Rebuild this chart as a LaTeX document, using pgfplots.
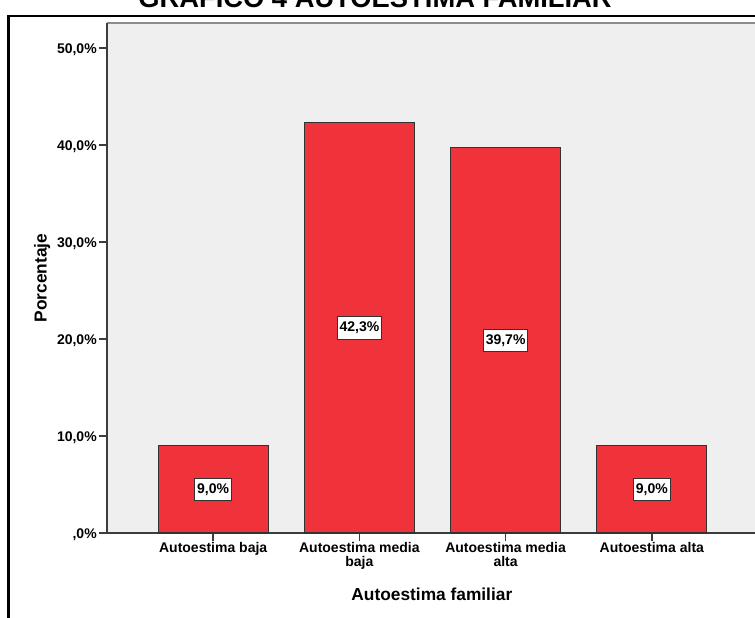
\documentclass[border=0pt]{standalone}
\usepackage{fontspec}
\setmainfont{Liberation Sans}
\usepackage{pgfplots}
\usepackage{pgfplotstable}
\pgfplotsset{compat=1.18}

\definecolor{barred}{RGB}{240,50,58}
\definecolor{barline}{RGB}{50,50,50}
\definecolor{plotbg}{RGB}{239,239,239}
\definecolor{axisdark}{RGB}{60,60,60}
\definecolor{framegray}{RGB}{140,140,140}

% Porcentaje por nivel de autoestima familiar
\pgfplotstableread{
x v
0 9.0
1 42.3
2 39.7
3 9.0
}\datatable

\begin{document}
\begin{tikzpicture}[x=0.75pt,y=0.75pt]
\begin{scope}
\clip (0,0) rectangle (755,617);
\fill[white] (0,0) rectangle (755,617);

% title
\node[anchor=base, font=\bfseries\fontsize{20.5pt}{24pt}\selectfont, inner sep=0pt]
  at (375,609) {GRÁFICO 4 AUTOESTIMA FAMILIAR};

% outer frame
\draw[line width=1.9pt] (8.5,-30) -- (8.5,601) -- (800,601);

\begin{axis}[
  at={(80.25pt,63pt)}, anchor=south west,
  scale only axis,
  width=488.25pt, height=382.5pt,
  xmin=-0.726, xmax=3.726,
  ymin=0, ymax=52.58,
  axis background/.style={fill=plotbg},
  axis line style={draw=none},
  clip=false,
  xtick={0,1,2,3},
  xticklabels={Autoestima baja, Autoestima media\\baja, Autoestima media\\alta, Autoestima alta},
  ytick={0,10,20,30,40,50},
  yticklabels={{,0\%},{10,0\%},{20,0\%},{30,0\%},{40,0\%},{50,0\%}},
  xtick pos=bottom, ytick pos=left,
  tick align=outside,
  major tick length=6pt,
  tick style={draw=axisdark, line width=1pt},
  xticklabel style={font=\bfseries\fontsize{10.5pt}{10pt}\selectfont, align=center, anchor=north, inner sep=0pt, yshift=-1pt},
  yticklabel style={font=\bfseries\fontsize{10.5pt}{12pt}\selectfont, anchor=east, inner sep=0pt, xshift=-1.5pt, yshift=-1.5pt},
  /pgf/number format/assume math mode=true,
  xlabel={Autoestima familiar},
  ylabel={Porcentaje},
  every axis x label/.style={at={(axis description cs:0.499,-0.1333)}, anchor=base, font=\bfseries\fontsize{13pt}{15pt}\selectfont, inner sep=0pt},
  every axis y label/.style={at={(axis description cs:-0.0929,0.5)}, rotate=90, anchor=base, font=\bfseries\fontsize{13pt}{15pt}\selectfont, inner sep=0pt},
]
% plot frame: light top edge, dark left and bottom axis lines
\draw[framegray, line width=1.5pt] (rel axis cs:0,1) -- (rel axis cs:1.02,1);
\draw[axisdark, line width=1.1pt] (rel axis cs:0,1) -- (rel axis cs:0,0) -- (rel axis cs:1.02,0);

\addplot[ybar, bar width=0.753, fill=barred, draw=barline, line width=0.8pt]
  table[x=x, y=v] {\datatable};

% value labels at half the bar height
\addplot[draw=none, mark=none,
  nodes near coords={\pgfmathprintnumber[fixed, fixed zerofill, precision=1, use comma]{\pgfplotspointmeta}\%},
  point meta=explicit,
  every node near coord/.style={anchor=center, fill=white, draw=barline, line width=0.7pt,
    inner xsep=1.8pt, inner ysep=0pt, minimum height=17pt,
    font=\bfseries\fontsize{10.5pt}{12pt}\selectfont, text=black}]
  table[x=x, y expr=\thisrow{v}/2, meta=v] {\datatable};
\end{axis}
\end{scope}
\pgfresetboundingbox
\useasboundingbox (0,0) rectangle (755,617);
\end{tikzpicture}
\end{document}
